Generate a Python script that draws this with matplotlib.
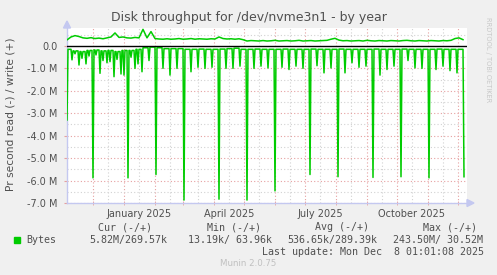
import matplotlib
matplotlib.use('Agg')
import matplotlib.pyplot as plt
import pandas as pd
from matplotlib.patches import Rectangle, Polygon

W, H = 497, 275

# write (+) side, MB/s, one value every 4 days from 2024-11-05
write_vals = [0.27, 0.40, 0.46, 0.42, 0.36, 0.34, 0.37, 0.33, 0.35, 0.32,
              0.36, 0.40, 0.58, 0.38, 0.40, 0.36, 0.35, 0.38, 0.36, 0.74,
              0.36, 0.64, 0.33, 0.31, 0.30, 0.32, 0.30, 0.31, 0.33, 0.30,
              0.31, 0.33, 0.30, 0.32, 0.31, 0.30, 0.32, 0.31, 0.40, 0.33,
              0.31, 0.32, 0.30, 0.32, 0.28, 0.22, 0.24, 0.23, 0.22, 0.24,
              0.22, 0.23, 0.25, 0.22, 0.23, 0.24, 0.22, 0.23, 0.25, 0.22,
              0.23, 0.24, 0.22, 0.23, 0.24, 0.25, 0.30, 0.34, 0.26, 0.23,
              0.24, 0.22, 0.23, 0.24, 0.22, 0.25, 0.23, 0.22, 0.24, 0.23,
              0.22, 0.24, 0.23, 0.22, 0.24, 0.25, 0.23, 0.22, 0.24, 0.23,
              0.22, 0.24, 0.23, 0.22, 0.24, 0.23, 0.25, 0.33, 0.36, 0.28]

# read (-) side: first value, then weekly Sunday dips and the level around them
read_first = -3.3
read_dip = [-0.62, -0.85, -0.80, -5.88, -1.22, -0.75, -1.37, -1.25, -5.88, -1.00,
            -1.15, -0.65, -5.73, -1.00, -1.30, -1.00, -6.87, -1.15, -0.95, -1.00,
            -0.95, -6.83, -1.00, -1.00, -0.90, -6.87, -1.00, -0.90, -0.98, -6.46,
            -0.95, -1.05, -0.90, -1.00, -5.73, -0.88, -1.20, -0.98, -5.83, -1.20,
            -0.75, -0.95, -0.90, -5.86, -1.30, -1.05, -0.90, -5.83, -0.65, -0.98,
            -1.00, -5.88, -1.05, -0.90, -1.10, -1.20, -5.83]
read_base = [-0.15, -0.22, -0.25, -0.20, -0.18, -0.22, -0.20, -0.25, -0.20, -0.20,
             -0.15, -0.08, -0.05, -0.08, -0.12, -0.12, -0.12, -0.15, -0.15, -0.14,
             -0.15, -0.15, -0.14, -0.12, -0.10, -0.15, -0.15, -0.14, -0.15, -0.15,
             -0.15, -0.14, -0.15, -0.15, -0.15, -0.14, -0.15, -0.15, -0.15, -0.14,
             -0.15, -0.15, -0.15, -0.15, -0.14, -0.15, -0.15, -0.15, -0.14, -0.15,
             -0.15, -0.15, -0.15, -0.14, -0.15, -0.15, -0.15]
extra_dates = ['2024-11-13', '2024-11-20', '2024-11-27', '2024-12-04', '2024-12-11',
               '2024-12-18', '2024-12-25', '2025-01-01', '2025-01-08', '2025-01-15']
extra_vals = [-0.35, -0.55, -0.45, -0.40, -0.65, -0.70, -0.60, -1.30, -0.50, -0.80]

y_ticks = [0, -1, -2, -3, -4, -5, -6, -7]
y_labels = ['0.0', '-1.0 M', '-2.0 M', '-3.0 M', '-4.0 M', '-5.0 M', '-6.0 M', '-7.0 M']
x_label_dates = ['2025-01-16', '2025-04-16', '2025-07-16', '2025-10-16']
x_labels = ['January 2025', 'April 2025', 'July 2025', 'October 2025']

legend_head = ['Cur (-/+)', 'Min (-/+)', 'Avg (-/+)', 'Max (-/+)']
legend_vals = ['5.82M/269.57k', '13.19k/ 63.96k', '536.65k/289.39k', '243.50M/ 30.52M']

t0 = pd.Timestamp('2024-11-05')
t1 = t0 + pd.Timedelta(days=400)
day = pd.Timedelta(days=1)

write_dates = pd.date_range(t0, periods=len(write_vals), freq='4D')

sundays = pd.date_range('2024-11-10', periods=len(read_dip), freq='7D')
pts = {t0: read_first, t0 + day: read_base[0]}
for s, b, d in zip(sundays, read_base, read_dip):
    if s - 6 * day > t0 + day:
        pts[s - 6 * day] = b
    pts[s - day] = b
    pts[s] = d
for w, v in zip(pd.to_datetime(extra_dates), extra_vals):
    b = read_base[sundays.searchsorted(w)]
    pts[w - day] = b
    pts[w] = v
    pts[w + day] = b
read = pd.Series(pts).sort_index()


def fx(x):
    return x / W


def fy(y):
    return 1 - y / H


txt = '#505050'
red = '#e6a0a0'
grey = '#d2d2d2'
axis_c = '#c4c8f0'
green = '#00cc00'

fig = plt.figure(figsize=(W / 100, H / 100), dpi=100)
fig.patch.set_facecolor('#f0f0f0')
ax = fig.add_axes([fx(67), fy(203), fx(400), 175 / H])
ax.set_facecolor('white')

ax.set_xlim(t0, t1)
ax.set_ylim(-7, 0.8)

# grid
for m in pd.date_range('2024-11-16', '2025-11-16', freq='MS') + pd.Timedelta(days=15):
    ax.axvline(m, color=grey, lw=0.8, dashes=(1, 2), zorder=1)
for m in pd.date_range('2024-12-01', '2025-12-01', freq='MS'):
    ax.axvline(m, color=red, lw=0.8, dashes=(1, 2), zorder=1)
for v in [0.5, -0.5, -1.5, -2.5, -3.5, -4.5, -5.5, -6.5]:
    ax.axhline(v, color=grey, lw=0.8, dashes=(1, 2), zorder=1)
for v in y_ticks[1:]:
    ax.axhline(v, color=red, lw=0.8, dashes=(1, 2), zorder=1)

ax.plot(read.index, read.values, color=green, lw=1.1, zorder=3)
ax.plot(write_dates, write_vals, color=green, lw=1.1, zorder=3)
ax.axhline(0, color='black', lw=1.0, zorder=4)

for side in ['top', 'right']:
    ax.spines[side].set_visible(False)
for side in ['left', 'bottom']:
    ax.spines[side].set_color(axis_c)
    ax.spines[side].set_linewidth(1.0)

ax.set_yticks(y_ticks, y_labels)
ax.set_xticks(pd.to_datetime(x_label_dates), x_labels)
ax.set_xticks(pd.date_range('2024-12-01', '2025-12-01', freq='MS'), minor=True)
ax.tick_params(axis='y', length=2, color=red, labelsize=7, labelcolor=txt, pad=5)
ax.tick_params(axis='x', which='major', length=0, labelsize=7, labelcolor=txt, pad=4)
ax.tick_params(axis='x', which='minor', length=3, color=red, direction='inout')
for lab in ax.get_yticklabels() + ax.get_xticklabels():
    lab.set_family('DejaVu Sans')

# axis arrows
fig.patches.append(Polygon([[fx(63.5), fy(28)], [fx(70.5), fy(28)], [fx(67), fy(21)]],
                           closed=True, color=axis_c, transform=fig.transFigure))
fig.patches.append(Polygon([[fx(467), fy(199.5)], [fx(467), fy(206.5)], [fx(474), fy(203)]],
                           closed=True, color=axis_c, transform=fig.transFigure))

fig.text(fx(249), fy(18), 'Disk throughput for /dev/nvme3n1 - by year',
         ha='center', va='center', fontsize=9, color=txt)
fig.text(fx(11), fy(114), 'Pr second read (-) / write (+)', rotation=90,
         ha='center', va='center', fontsize=7.7, color=txt)
fig.text(fx(488), fy(60), 'RRDTOOL / TOBI OETIKER', rotation=270,
         ha='center', va='center', fontsize=4.8, color='#c8c8c8')

mono = dict(family='DejaVu Sans Mono', fontsize=7.2, color=txt, va='center')
for h, x in zip(legend_head, [98, 207, 315, 423]):
    fig.text(fx(x), fy(227), h, ha='left', **mono)
fig.patches.append(Rectangle((fx(14), fy(243)), fx(6), 6 / H, color=green,
                             transform=fig.transFigure))
fig.text(fx(26), fy(240), 'Bytes', ha='left', **mono)
for v, x in zip(legend_vals, [89, 188, 287, 393]):
    fig.text(fx(x), fy(240), v, ha='left', **mono)
fig.text(fx(484), fy(252), 'Last update: Mon Dec  8 01:01:08 2025', ha='right', **mono)
fig.text(fx(248), fy(263), 'Munin 2.0.75', ha='center', va='center',
         fontsize=6.2, color='#c0c0c0')

fig.savefig('out.png', dpi=100, facecolor=fig.get_facecolor())
